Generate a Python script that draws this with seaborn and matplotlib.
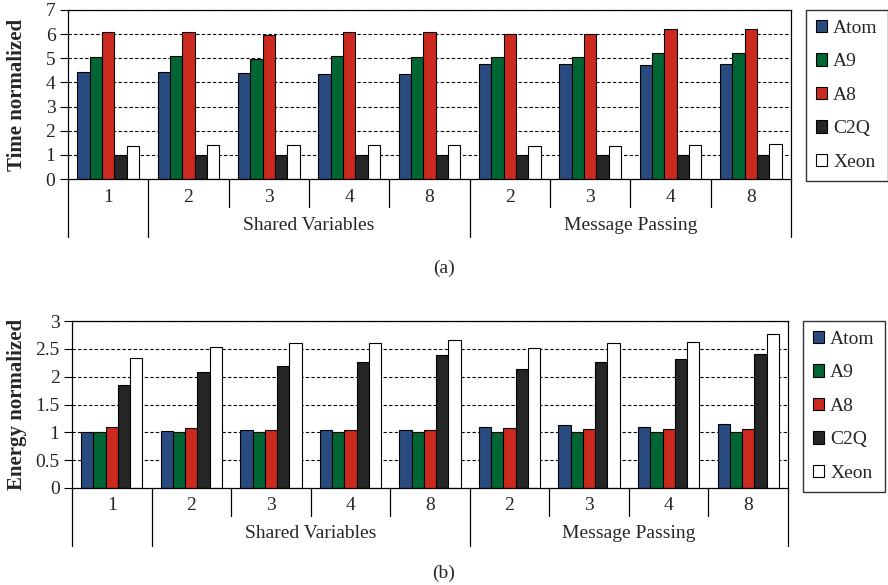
import numpy as np
import pandas as pd
import matplotlib
matplotlib.use("Agg")
import matplotlib.pyplot as plt
from matplotlib.patches import Patch
import seaborn as sns

# configurations (x categories) and their shown labels
config_keys = ["SV1", "SV2", "SV3", "SV4", "SV8", "MP2", "MP3", "MP4", "MP8"]
config_labels = ["1", "2", "3", "4", "8", "2", "3", "4", "8"]
procs = ["Atom", "A9", "A8", "C2Q", "Xeon"]
proc_colors = ["#2a4b80", "#006633", "#cc2a1e", "#262626", "#ffffff"]

# (a) time normalized
time_atom = [4.45, 4.45, 4.40, 4.33, 4.33, 4.78, 4.78, 4.72, 4.78]
time_a9 = [5.05, 5.10, 4.98, 5.10, 5.05, 5.05, 5.05, 5.20, 5.20]
time_a8 = [6.07, 6.07, 5.97, 6.07, 6.07, 6.02, 6.02, 6.23, 6.23]
time_c2q = [1.0, 1.0, 1.0, 1.0, 1.0, 1.0, 1.0, 1.0, 1.0]
time_xeon = [1.35, 1.40, 1.40, 1.40, 1.40, 1.35, 1.35, 1.40, 1.45]

# (b) energy normalized
energy_atom = [1.00, 1.03, 1.05, 1.05, 1.05, 1.10, 1.13, 1.10, 1.15]
energy_a9 = [1.0, 1.0, 1.0, 1.0, 1.0, 1.0, 1.0, 1.0, 1.0]
energy_a8 = [1.10, 1.07, 1.05, 1.05, 1.05, 1.07, 1.06, 1.06, 1.06]
energy_c2q = [1.85, 2.09, 2.20, 2.27, 2.39, 2.14, 2.26, 2.31, 2.40]
energy_xeon = [2.34, 2.53, 2.60, 2.60, 2.66, 2.51, 2.60, 2.63, 2.76]

group_names = ["Shared Variables", "Message Passing"]


def to_long(series):
    rows = []
    for p, vals in zip(procs, series):
        for k, v in zip(config_keys, vals):
            rows.append({"config": k, "proc": p, "value": v})
    return pd.DataFrame(rows)


sns.set_theme(style="white")
plt.rcParams["font.family"] = ["Liberation Serif", "DejaVu Serif"]
plt.rcParams["font.size"] = 14

fig = plt.figure(figsize=(8.88, 5.85), dpi=100)
W, H = 888, 585


def add_axes(left_px, right_px, top_px, bottom_px):
    return fig.add_axes([left_px / W, 1 - bottom_px / H, (right_px - left_px) / W,
                         (bottom_px - top_px) / H])


def draw(ax, data, ymax, step, ylabel, legend_left_px):
    sns.barplot(data=data, x="config", y="value", hue="proc", order=config_keys,
                hue_order=procs, palette=proc_colors, saturation=1, width=0.77,
                edgecolor="black", linewidth=0.8, ax=ax, legend=False)
    ax.set_ylim(0, ymax)
    ax.set_xlim(-0.5, len(config_keys) - 0.5)
    ticks = np.arange(0, ymax + step / 2, step)
    ax.set_yticks(ticks)
    ax.set_yticklabels([("%g" % t) for t in ticks], fontsize=14)
    ax.tick_params(axis="y", length=6, width=0.8, color="black", left=True, pad=3)
    ax.set_xticks([])
    ax.set_xlabel("")
    ax.set_ylabel("")
    pos = ax.get_position()
    fig.text(17 / W, pos.y0 + pos.height / 2, ylabel, rotation=90, ha="center",
             va="center", fontsize=15, fontweight="bold")
    for t in ticks[1:]:
        ax.axhline(t, color="black", linestyle=(0, (3, 2)), linewidth=0.8, zorder=0.5)
    for s in ax.spines.values():
        s.set_color("black")
        s.set_linewidth(0.9)
    ax.grid(False)

    w_px = pos.width * W
    h_px = pos.height * H
    tr = ax.get_xaxis_transform()
    short = -28 / h_px
    long = -58 / h_px
    for i in range(len(config_keys) + 1):
        x = i - 0.5
        y_end = long if i in (0, 1, 5, 9) else short
        ax.plot([x, x], [0, y_end], transform=tr, color="black", linewidth=0.9,
                clip_on=False)
    for i, lab in enumerate(config_labels):
        ax.text(i, -18 / h_px, lab, transform=tr, ha="center", va="center", fontsize=14)
    ax.text(2.5, -46 / h_px, group_names[0], transform=tr, ha="center", va="center",
            fontsize=14)
    ax.text(6.5, -46 / h_px, group_names[1], transform=tr, ha="center", va="center",
            fontsize=14)

    handles = [Patch(facecolor=c, edgecolor="black", linewidth=0.8) for c in proc_colors]
    ax.legend(handles, procs, loc="upper left",
              bbox_to_anchor=((legend_left_px - pos.x0 * W) / w_px, 1.0),
              frameon=True, fancybox=False, edgecolor="black", fontsize=14,
              handlelength=0.6, handleheight=0.6, handletextpad=0.3,
              labelspacing=0.85, borderpad=0.5, borderaxespad=0)


ax1 = add_axes(68, 791, 10, 179)
draw(ax1, to_long([time_atom, time_a9, time_a8, time_c2q, time_xeon]), 7, 1,
     "Time normalized", 806)
ax2 = add_axes(72, 788, 321, 488)
draw(ax2, to_long([energy_atom, energy_a9, energy_a8, energy_c2q, energy_xeon]), 3, 0.5,
     "Energy normalized", 803)

fig.text(444 / W, 1 - 268 / H, "(a)", ha="center", va="center", fontsize=14)
fig.text(444 / W, 1 - 573 / H, "(b)", ha="center", va="center", fontsize=14)

fig.savefig("out.png", dpi=100)
